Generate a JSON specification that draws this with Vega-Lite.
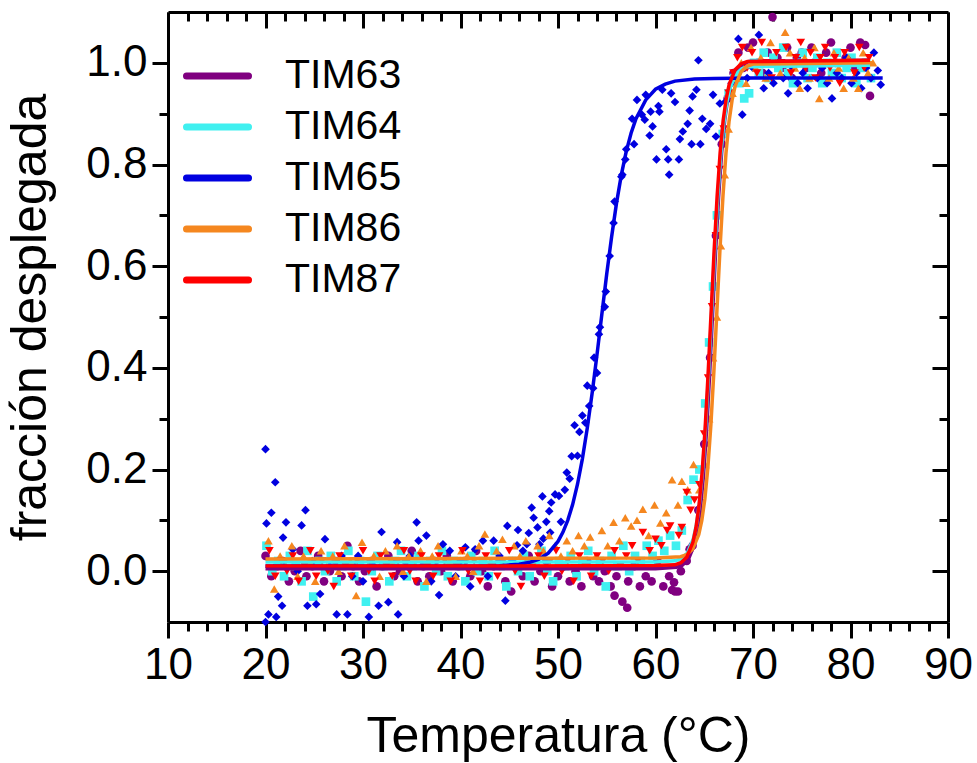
{
  "$schema": "https://vega.github.io/schema/vega-lite/v6.json",
  "width": 780,
  "height": 610,
  "autosize": "none",
  "padding": {"left": 168, "top": 12, "right": 29, "bottom": 141},
  "background": "white",
  "config": {
    "font": "Liberation Sans",
    "view": {"stroke": null},
    "axis": {"labelFont": "Liberation Sans", "titleFont": "Liberation Sans", "labelColor": "black", "titleColor": "black", "titleFontWeight": "normal", "grid": false, "domainColor": "black", "tickColor": "black", "domainWidth": 3, "tickWidth": 3, "zindex": 1},
    "legend": {"labelFont": "Liberation Sans"},
    "point": {"filled": true, "size": 75, "opacity": 1}
  },
  "datasets": {
    "puntos": [
      {"s":"TIM63","t":20,"f":0.03},{"s":"TIM63","t":20.6,"f":-0.01},{"s":"TIM63","t":21.2,"f":0.01},{"s":"TIM63","t":21.8,"f":0.02},{"s":"TIM63","t":22.4,"f":-0.02},{"s":"TIM63","t":23,"f":0},{"s":"TIM63","t":23.6,"f":0.04},{"s":"TIM63","t":24.2,"f":-0.01},{"s":"TIM63","t":24.8,"f":0.01},{"s":"TIM63","t":25.4,"f":0.03},{"s":"TIM63","t":26,"f":-0.02},{"s":"TIM63","t":26.6,"f":0},{"s":"TIM63","t":27.2,"f":0.02},{"s":"TIM63","t":27.8,"f":-0.01},{"s":"TIM63","t":28.4,"f":0.05},{"s":"TIM63","t":29,"f":0.01},{"s":"TIM63","t":29.6,"f":-0.02},{"s":"TIM63","t":30.2,"f":0},{"s":"TIM63","t":30.8,"f":0.02},{"s":"TIM63","t":31.4,"f":-0.03},{"s":"TIM63","t":32,"f":0.01},{"s":"TIM63","t":32.6,"f":0.03},{"s":"TIM63","t":33.2,"f":-0.01},{"s":"TIM63","t":33.8,"f":0},{"s":"TIM63","t":34.4,"f":0.02},{"s":"TIM63","t":35,"f":0.04},{"s":"TIM63","t":35.6,"f":-0.02},{"s":"TIM63","t":36.2,"f":0.01},{"s":"TIM63","t":36.8,"f":-0.01},{"s":"TIM63","t":37.4,"f":0.02},{"s":"TIM63","t":38,"f":0},{"s":"TIM63","t":38.6,"f":0.03},{"s":"TIM63","t":39.2,"f":-0.02},{"s":"TIM63","t":39.8,"f":0.01},{"s":"TIM63","t":40.4,"f":0.02},{"s":"TIM63","t":41,"f":-0.01},{"s":"TIM63","t":41.6,"f":0.04},{"s":"TIM63","t":42.2,"f":0},{"s":"TIM63","t":42.8,"f":-0.03},{"s":"TIM63","t":43.4,"f":0.01},{"s":"TIM63","t":44,"f":0.02},{"s":"TIM63","t":44.6,"f":-0.02},{"s":"TIM63","t":45.2,"f":-0.04},{"s":"TIM63","t":45.8,"f":0.01},{"s":"TIM63","t":46.4,"f":-0.01},{"s":"TIM63","t":47,"f":0.03},{"s":"TIM63","t":47.6,"f":-0.02},{"s":"TIM63","t":48.2,"f":0},{"s":"TIM63","t":48.8,"f":0.02},{"s":"TIM63","t":49.4,"f":-0.03},{"s":"TIM63","t":50,"f":-0.01},{"s":"TIM63","t":50.6,"f":0.01},{"s":"TIM63","t":51.2,"f":-0.02},{"s":"TIM63","t":51.8,"f":0},{"s":"TIM63","t":52.4,"f":-0.03},{"s":"TIM63","t":53,"f":0.02},{"s":"TIM63","t":53.6,"f":-0.01},{"s":"TIM63","t":54.2,"f":-0.02},{"s":"TIM63","t":54.8,"f":0},{"s":"TIM63","t":55.4,"f":-0.03},{"s":"TIM63","t":55.8,"f":-0.048},{"s":"TIM63","t":56,"f":-0.01},{"s":"TIM63","t":56.6,"f":-0.06},{"s":"TIM63","t":57.1,"f":-0.072},{"s":"TIM63","t":57.2,"f":-0.02},{"s":"TIM63","t":57.8,"f":0.01},{"s":"TIM63","t":58.4,"f":-0.03},{"s":"TIM63","t":59,"f":-0.01},{"s":"TIM63","t":59.6,"f":-0.02},{"s":"TIM63","t":60.2,"f":0.02},{"s":"TIM63","t":60.8,"f":-0.03},{"s":"TIM63","t":61.4,"f":-0.01},{"s":"TIM63","t":61.7,"f":-0.037},{"s":"TIM63","t":61.9,"f":-0.022},{"s":"TIM63","t":62,"f":-0.04},{"s":"TIM63","t":62.3,"f":-0.04},{"s":"TIM63","t":62.6,"f":0},{"s":"TIM63","t":63.2,"f":0.02},{"s":"TIM63","t":63.5,"f":0.043},{"s":"TIM63","t":63.8,"f":0.05},{"s":"TIM63","t":64.4,"f":0.12},{"s":"TIM63","t":65,"f":0.25},{"s":"TIM63","t":65.6,"f":0.42},{"s":"TIM63","t":66.2,"f":0.66},{"s":"TIM63","t":66.8,"f":0.84},{"s":"TIM63","t":67.4,"f":0.93},{"s":"TIM63","t":68,"f":0.98},
      {"s":"TIM63","t":68.5,"f":1.02},{"s":"TIM63","t":69,"f":0.99},{"s":"TIM63","t":69.5,"f":1.03},{"s":"TIM63","t":70,"f":1.04},{"s":"TIM63","t":70.5,"f":1},{"s":"TIM63","t":71,"f":0.98},{"s":"TIM63","t":71.5,"f":1.02},{"s":"TIM63","t":72,"f":1.09},{"s":"TIM63","t":72.5,"f":1.01},{"s":"TIM63","t":73,"f":0.99},{"s":"TIM63","t":73.5,"f":1.03},{"s":"TIM63","t":74,"f":0.97},{"s":"TIM63","t":74.5,"f":1.01},{"s":"TIM63","t":75,"f":1.02},{"s":"TIM63","t":75.5,"f":0.99},{"s":"TIM63","t":76,"f":1.03},{"s":"TIM63","t":76.5,"f":1},{"s":"TIM63","t":77,"f":0.98},{"s":"TIM63","t":77.5,"f":1.02},{"s":"TIM63","t":78,"f":1.04},{"s":"TIM63","t":78.5,"f":1},{"s":"TIM63","t":79,"f":0.97},{"s":"TIM63","t":79.5,"f":1.01},{"s":"TIM63","t":80,"f":1.03},{"s":"TIM63","t":80.5,"f":0.99},{"s":"TIM63","t":81,"f":1.04},{"s":"TIM63","t":81.5,"f":1.035},{"s":"TIM63","t":82,"f":0.935},

      {"s":"TIM64","t":20.1,"f":0.05},{"s":"TIM64","t":20.7,"f":0},{"s":"TIM64","t":21.3,"f":0.02},{"s":"TIM64","t":21.9,"f":-0.01},{"s":"TIM64","t":22.5,"f":0.03},{"s":"TIM64","t":23.1,"f":0.01},{"s":"TIM64","t":23.7,"f":-0.02},{"s":"TIM64","t":24.3,"f":0.04},{"s":"TIM64","t":24.9,"f":-0.05},{"s":"TIM64","t":25.5,"f":0.02},{"s":"TIM64","t":26.1,"f":0},{"s":"TIM64","t":26.7,"f":0.03},{"s":"TIM64","t":27.3,"f":-0.02},{"s":"TIM64","t":27.9,"f":0.01},{"s":"TIM64","t":28.5,"f":0.04},{"s":"TIM64","t":29.1,"f":-0.01},{"s":"TIM64","t":29.7,"f":0.02},{"s":"TIM64","t":30.3,"f":-0.06},{"s":"TIM64","t":30.9,"f":0},{"s":"TIM64","t":31.5,"f":0.03},{"s":"TIM64","t":32.1,"f":0.01},{"s":"TIM64","t":32.7,"f":-0.02},{"s":"TIM64","t":33.3,"f":0.02},{"s":"TIM64","t":33.9,"f":0.04},{"s":"TIM64","t":34.5,"f":-0.01},{"s":"TIM64","t":35.1,"f":0.01},{"s":"TIM64","t":35.7,"f":0.03},{"s":"TIM64","t":36.3,"f":-0.03},{"s":"TIM64","t":36.9,"f":0.02},{"s":"TIM64","t":37.5,"f":0},{"s":"TIM64","t":38.1,"f":0.04},{"s":"TIM64","t":38.7,"f":-0.01},{"s":"TIM64","t":39.3,"f":0.02},{"s":"TIM64","t":39.9,"f":0.01},{"s":"TIM64","t":40.5,"f":-0.02},{"s":"TIM64","t":41.1,"f":0.03},{"s":"TIM64","t":41.7,"f":0},{"s":"TIM64","t":42.3,"f":0.02},{"s":"TIM64","t":42.9,"f":-0.01},{"s":"TIM64","t":43.5,"f":0.04},{"s":"TIM64","t":44.1,"f":0.01},{"s":"TIM64","t":44.7,"f":-0.03},{"s":"TIM64","t":45.3,"f":0.02},{"s":"TIM64","t":45.9,"f":0},{"s":"TIM64","t":46.5,"f":0.03},{"s":"TIM64","t":47.1,"f":-0.01},{"s":"TIM64","t":47.7,"f":0.02},{"s":"TIM64","t":48.3,"f":0.04},{"s":"TIM64","t":48.9,"f":0},{"s":"TIM64","t":49.5,"f":-0.02},{"s":"TIM64","t":50.1,"f":0.02},{"s":"TIM64","t":50.7,"f":0.01},{"s":"TIM64","t":51.3,"f":0.03},{"s":"TIM64","t":51.9,"f":-0.01},{"s":"TIM64","t":52.5,"f":0.02},{"s":"TIM64","t":53.1,"f":0.04},{"s":"TIM64","t":53.7,"f":0},{"s":"TIM64","t":54.3,"f":0.02},{"s":"TIM64","t":54.9,"f":-0.03},{"s":"TIM64","t":55.5,"f":0.03},{"s":"TIM64","t":56.1,"f":0.01},{"s":"TIM64","t":56.7,"f":0.05},{"s":"TIM64","t":57.3,"f":0},{"s":"TIM64","t":57.9,"f":0.03},{"s":"TIM64","t":58.5,"f":0.02},{"s":"TIM64","t":59.1,"f":0.05},{"s":"TIM64","t":59.7,"f":0.03},{"s":"TIM64","t":60.3,"f":0.06},{"s":"TIM64","t":60.9,"f":0.04},{"s":"TIM64","t":61.5,"f":0.07},{"s":"TIM64","t":62.1,"f":0.05},{"s":"TIM64","t":62.7,"f":0.08},{"s":"TIM64","t":63.3,"f":0.14},{"s":"TIM64","t":63.9,"f":0.18},{"s":"TIM64","t":64.5,"f":0.2},{"s":"TIM64","t":65.1,"f":0.33},{"s":"TIM64","t":65.5,"f":0.45},{"s":"TIM64","t":65.9,"f":0.56},{"s":"TIM64","t":66.3,"f":0.7},{"s":"TIM64","t":66.9,"f":0.86},{"s":"TIM64","t":67.5,"f":0.94},{"s":"TIM64","t":68.1,"f":0.97},
      {"s":"TIM64","t":68.6,"f":0.96},{"s":"TIM64","t":69.1,"f":0.93},{"s":"TIM64","t":69.6,"f":0.94},{"s":"TIM64","t":70.1,"f":1},{"s":"TIM64","t":70.6,"f":0.98},{"s":"TIM64","t":71.1,"f":1.02},{"s":"TIM64","t":71.6,"f":0.97},{"s":"TIM64","t":72.1,"f":1.01},{"s":"TIM64","t":72.6,"f":0.99},{"s":"TIM64","t":73.1,"f":1.03},{"s":"TIM64","t":73.6,"f":0.98},{"s":"TIM64","t":74.1,"f":0.96},{"s":"TIM64","t":74.6,"f":1},{"s":"TIM64","t":75.1,"f":1.02},{"s":"TIM64","t":75.6,"f":0.97},{"s":"TIM64","t":76.1,"f":0.99},{"s":"TIM64","t":76.6,"f":1.01},{"s":"TIM64","t":77.1,"f":0.96},{"s":"TIM64","t":77.6,"f":1},{"s":"TIM64","t":78.1,"f":0.98},{"s":"TIM64","t":78.6,"f":1.02},{"s":"TIM64","t":79.1,"f":0.97},{"s":"TIM64","t":79.6,"f":0.99},{"s":"TIM64","t":80.1,"f":1.01},{"s":"TIM64","t":80.6,"f":0.96},{"s":"TIM64","t":81.1,"f":0.99},{"s":"TIM64","t":81.6,"f":1},{"s":"TIM64","t":82.1,"f":0.97},

      {"s":"TIM65","t":20,"f":0.24},{"s":"TIM65","t":20,"f":-0.1},{"s":"TIM65","t":20.1,"f":0.094},{"s":"TIM65","t":20.3,"f":-0.085},{"s":"TIM65","t":20.6,"f":0.115},{"s":"TIM65","t":21,"f":0.175},{"s":"TIM65","t":21.1,"f":-0.09},{"s":"TIM65","t":21.3,"f":-0.05},{"s":"TIM65","t":21.7,"f":-0.068},{"s":"TIM65","t":21.8,"f":0.066},{"s":"TIM65","t":22.1,"f":0.096},{"s":"TIM65","t":22.8,"f":0.043},{"s":"TIM65","t":23.3,"f":0},{"s":"TIM65","t":23.7,"f":0.09},{"s":"TIM65","t":24.1,"f":0.12},{"s":"TIM65","t":24.3,"f":-0.068},{"s":"TIM65","t":24.8,"f":0.02},{"s":"TIM65","t":25.2,"f":-0.065},{"s":"TIM65","t":25.6,"f":-0.045},{"s":"TIM65","t":26.1,"f":0.063},{"s":"TIM65","t":26.6,"f":0.01},{"s":"TIM65","t":27.3,"f":-0.085},{"s":"TIM65","t":27.8,"f":0.03},{"s":"TIM65","t":28.4,"f":-0.085},{"s":"TIM65","t":28.9,"f":-0.01},{"s":"TIM65","t":29.5,"f":0.03},{"s":"TIM65","t":30,"f":-0.02},{"s":"TIM65","t":30.6,"f":-0.09},{"s":"TIM65","t":31.1,"f":0.01},{"s":"TIM65","t":31.6,"f":-0.068},{"s":"TIM65","t":31.9,"f":0.077},{"s":"TIM65","t":32.6,"f":-0.061},{"s":"TIM65","t":33,"f":0.02},{"s":"TIM65","t":33.5,"f":0.057},{"s":"TIM65","t":33.6,"f":-0.085},{"s":"TIM65","t":34.2,"f":-0.01},{"s":"TIM65","t":34.8,"f":0.03},{"s":"TIM65","t":35.5,"f":0.096},{"s":"TIM65","t":35.7,"f":0.06},{"s":"TIM65","t":36.5,"f":0.07},{"s":"TIM65","t":37,"f":-0.02},{"s":"TIM65","t":37.8,"f":-0.047},{"s":"TIM65","t":38.2,"f":0.053},{"s":"TIM65","t":38.9,"f":0.04},{"s":"TIM65","t":39.5,"f":-0.01},{"s":"TIM65","t":40,"f":0.02},{"s":"TIM65","t":40.5,"f":0.047},{"s":"TIM65","t":41,"f":-0.03},{"s":"TIM65","t":41.5,"f":0.043},{"s":"TIM65","t":42.3,"f":0.06},{"s":"TIM65","t":42.8,"f":-0.01},{"s":"TIM65","t":43.4,"f":0.06},{"s":"TIM65","t":44,"f":0.03},{"s":"TIM65","t":44.6,"f":-0.058},{"s":"TIM65","t":44.8,"f":0.089},{"s":"TIM65","t":45.3,"f":0.02},{"s":"TIM65","t":45.8,"f":0.051},{"s":"TIM65","t":45.9,"f":0.081},{"s":"TIM65","t":46.4,"f":0.04},{"s":"TIM65","t":46.8,"f":0.053},{"s":"TIM65","t":47,"f":0.075},{"s":"TIM65","t":47.3,"f":0.125},{"s":"TIM65","t":47.5,"f":0.105},{"s":"TIM65","t":47.9,"f":0.086},{"s":"TIM65","t":48.1,"f":0.053},{"s":"TIM65","t":48.4,"f":0.147},{"s":"TIM65","t":48.5,"f":0.064},{"s":"TIM65","t":48.8,"f":0.097},{"s":"TIM65","t":49.1,"f":0.118},{"s":"TIM65","t":49.2,"f":0.076},{"s":"TIM65","t":49.3,"f":0.135},{"s":"TIM65","t":49.7,"f":0.151},{"s":"TIM65","t":50.1,"f":0.148},{"s":"TIM65","t":50.3,"f":0.097},{"s":"TIM65","t":50.7,"f":0.16},{"s":"TIM65","t":50.9,"f":0.194},{"s":"TIM65","t":51.2,"f":0.182},{"s":"TIM65","t":51.4,"f":0.226},{"s":"TIM65","t":51.7,"f":0.287},{"s":"TIM65","t":52,"f":0.227},{"s":"TIM65","t":52.2,"f":0.274},{"s":"TIM65","t":52.5,"f":0.306},{"s":"TIM65","t":52.8,"f":0.292},{"s":"TIM65","t":53,"f":0.365},{"s":"TIM65","t":53.2,"f":0.325},{"s":"TIM65","t":53.6,"f":0.36},{"s":"TIM65","t":53.7,"f":0.42},{"s":"TIM65","t":54,"f":0.39},{"s":"TIM65","t":54.2,"f":0.466},{"s":"TIM65","t":54.3,"f":0.48},{"s":"TIM65","t":54.8,"f":0.52},{"s":"TIM65","t":54.9,"f":0.55},{"s":"TIM65","t":55.3,"f":0.62},{"s":"TIM65","t":55.7,"f":0.685},{"s":"TIM65","t":55.8,"f":0.727},{"s":"TIM65","t":56.5,"f":0.776},{"s":"TIM65","t":56.6,"f":0.78},{"s":"TIM65","t":56.9,"f":0.81},{"s":"TIM65","t":57,"f":0.83},{"s":"TIM65","t":57.6,"f":0.89},{"s":"TIM65","t":57.8,"f":0.84},{"s":"TIM65","t":58.1,"f":0.927},{"s":"TIM65","t":58.6,"f":0.898},{"s":"TIM65","t":58.9,"f":0.888},{"s":"TIM65","t":59,"f":0.937},{"s":"TIM65","t":59.4,"f":0.857},{"s":"TIM65","t":59.5,"f":0.904},{"s":"TIM65","t":59.7,"f":0.875},{"s":"TIM65","t":60.1,"f":0.81},{"s":"TIM65","t":60.3,"f":0.915},{"s":"TIM65","t":60.4,"f":0.904},{"s":"TIM65","t":60.7,"f":0.947},{"s":"TIM65","t":61.1,"f":0.83},{"s":"TIM65","t":61.3,"f":0.81},{"s":"TIM65","t":61.4,"f":0.78},{"s":"TIM65","t":61.6,"f":0.94},{"s":"TIM65","t":62,"f":0.923},{"s":"TIM65","t":62.4,"f":0.81},{"s":"TIM65","t":62.5,"f":0.85},{"s":"TIM65","t":62.8,"f":0.865},{"s":"TIM65","t":63.3,"f":0.88},{"s":"TIM65","t":63.5,"f":0.906},{"s":"TIM65","t":63.7,"f":0.84},{"s":"TIM65","t":63.8,"f":0.934},{"s":"TIM65","t":64.2,"f":0.947},{"s":"TIM65","t":64.4,"f":1.005},{"s":"TIM65","t":64.6,"f":0.84},{"s":"TIM65","t":64.8,"f":0.89},{"s":"TIM65","t":65.2,"f":0.87},{"s":"TIM65","t":65.6,"f":0.88},{"s":"TIM65","t":65.9,"f":0.937},{"s":"TIM65","t":66.2,"f":0.855},{"s":"TIM65","t":66.6,"f":0.92},{"s":"TIM65","t":67.2,"f":0.924},{"s":"TIM65","t":67.8,"f":0.96},{"s":"TIM65","t":68.5,"f":1.047},{"s":"TIM65","t":68.9,"f":0.898},{"s":"TIM65","t":69.4,"f":0.97},{"s":"TIM65","t":70,"f":0.99},{"s":"TIM65","t":70.6,"f":1.055},{"s":"TIM65","t":71.1,"f":0.95},{"s":"TIM65","t":71.6,"f":0.98},{"s":"TIM65","t":72.1,"f":0.96},{"s":"TIM65","t":72.6,"f":1},{"s":"TIM65","t":73.1,"f":0.97},{"s":"TIM65","t":73.6,"f":0.94},{"s":"TIM65","t":74.1,"f":0.99},{"s":"TIM65","t":74.6,"f":0.96},{"s":"TIM65","t":75.1,"f":0.98},{"s":"TIM65","t":75.6,"f":0.95},{"s":"TIM65","t":76.1,"f":1},{"s":"TIM65","t":76.6,"f":0.97},{"s":"TIM65","t":77.1,"f":0.99},{"s":"TIM65","t":77.6,"f":0.96},{"s":"TIM65","t":78.1,"f":0.93},{"s":"TIM65","t":78.6,"f":0.98},{"s":"TIM65","t":79.1,"f":0.97},{"s":"TIM65","t":79.6,"f":1.01},{"s":"TIM65","t":80.1,"f":0.96},{"s":"TIM65","t":80.6,"f":0.98},{"s":"TIM65","t":81.1,"f":0.95},{"s":"TIM65","t":81.6,"f":0.99},{"s":"TIM65","t":82.1,"f":0.97},{"s":"TIM65","t":82.4,"f":1.02},{"s":"TIM65","t":82.8,"f":0.985},{"s":"TIM65","t":83.1,"f":0.957},

      {"s":"TIM86","t":20.3,"f":0.06},{"s":"TIM86","t":20.9,"f":-0.035},{"s":"TIM86","t":21.5,"f":0.03},{"s":"TIM86","t":22.1,"f":0.01},{"s":"TIM86","t":22.7,"f":0.05},{"s":"TIM86","t":23.3,"f":-0.01},{"s":"TIM86","t":23.9,"f":0.03},{"s":"TIM86","t":24.5,"f":0.02},{"s":"TIM86","t":25.1,"f":-0.02},{"s":"TIM86","t":25.7,"f":0.04},{"s":"TIM86","t":26.3,"f":0.01},{"s":"TIM86","t":26.9,"f":0.03},{"s":"TIM86","t":27.5,"f":0},{"s":"TIM86","t":28.1,"f":0.05},{"s":"TIM86","t":28.7,"f":0.02},{"s":"TIM86","t":29.3,"f":-0.048},{"s":"TIM86","t":29.9,"f":0.057},{"s":"TIM86","t":30.5,"f":0.01},{"s":"TIM86","t":31.1,"f":0.03},{"s":"TIM86","t":31.7,"f":-0.01},{"s":"TIM86","t":32.3,"f":0.04},{"s":"TIM86","t":32.9,"f":0.02},{"s":"TIM86","t":33.5,"f":0.05},{"s":"TIM86","t":34.1,"f":0},{"s":"TIM86","t":34.7,"f":0.03},{"s":"TIM86","t":35.3,"f":0.01},{"s":"TIM86","t":35.9,"f":0.04},{"s":"TIM86","t":36.5,"f":-0.02},{"s":"TIM86","t":37.1,"f":0.03},{"s":"TIM86","t":37.7,"f":0.05},{"s":"TIM86","t":38.3,"f":0.01},{"s":"TIM86","t":38.9,"f":0.02},{"s":"TIM86","t":39.5,"f":-0.01},{"s":"TIM86","t":40.1,"f":0.04},{"s":"TIM86","t":40.7,"f":0.03},{"s":"TIM86","t":41.3,"f":0},{"s":"TIM86","t":41.9,"f":0.05},{"s":"TIM86","t":42.5,"f":0.073},{"s":"TIM86","t":43.1,"f":0.02},{"s":"TIM86","t":43.7,"f":0.04},{"s":"TIM86","t":44.3,"f":0.063},{"s":"TIM86","t":44.9,"f":0.01},{"s":"TIM86","t":45.5,"f":0.05},{"s":"TIM86","t":46.1,"f":0.03},{"s":"TIM86","t":46.7,"f":0.06},{"s":"TIM86","t":47.3,"f":0.02},{"s":"TIM86","t":47.9,"f":0.05},{"s":"TIM86","t":48.5,"f":0.04},{"s":"TIM86","t":49.1,"f":0.07},{"s":"TIM86","t":49.7,"f":0.05},{"s":"TIM86","t":50.3,"f":0.03},{"s":"TIM86","t":50.9,"f":0.06},{"s":"TIM86","t":51.5,"f":0.04},{"s":"TIM86","t":52.1,"f":0.07},{"s":"TIM86","t":52.7,"f":0.05},{"s":"TIM86","t":53.3,"f":0.067},{"s":"TIM86","t":53.9,"f":0.03},{"s":"TIM86","t":54.5,"f":0.08},{"s":"TIM86","t":55.1,"f":0.05},{"s":"TIM86","t":55.7,"f":0.096},{"s":"TIM86","t":56.3,"f":0.06},{"s":"TIM86","t":56.9,"f":0.105},{"s":"TIM86","t":57.5,"f":0.089},{"s":"TIM86","t":58.1,"f":0.1},{"s":"TIM86","t":58.7,"f":0.122},{"s":"TIM86","t":59.3,"f":0.07},{"s":"TIM86","t":59.9,"f":0.13},{"s":"TIM86","t":60.5,"f":0.095},{"s":"TIM86","t":61.1,"f":0.115},{"s":"TIM86","t":61.7,"f":0.18},{"s":"TIM86","t":62.3,"f":0.13},{"s":"TIM86","t":62.7,"f":0.177},{"s":"TIM86","t":63.3,"f":0.16},{"s":"TIM86","t":63.9,"f":0.21},{"s":"TIM86","t":64.5,"f":0.16},{"s":"TIM86","t":65.1,"f":0.21},{"s":"TIM86","t":65.5,"f":0.3},{"s":"TIM86","t":65.9,"f":0.42},{"s":"TIM86","t":66.3,"f":0.5},{"s":"TIM86","t":66.7,"f":0.64},{"s":"TIM86","t":67.1,"f":0.78},{"s":"TIM86","t":67.5,"f":0.87},{"s":"TIM86","t":67.9,"f":0.94},{"s":"TIM86","t":68.3,"f":0.97},
      {"s":"TIM86","t":68.8,"f":1},{"s":"TIM86","t":69.3,"f":0.96},{"s":"TIM86","t":69.8,"f":1.03},{"s":"TIM86","t":70.3,"f":0.99},{"s":"TIM86","t":70.8,"f":1.01},{"s":"TIM86","t":71.3,"f":0.97},{"s":"TIM86","t":71.8,"f":1.04},{"s":"TIM86","t":72.3,"f":1},{"s":"TIM86","t":72.8,"f":0.98},{"s":"TIM86","t":73.3,"f":1.06},{"s":"TIM86","t":73.8,"f":1.02},{"s":"TIM86","t":74.3,"f":0.99},{"s":"TIM86","t":74.8,"f":0.95},{"s":"TIM86","t":75.3,"f":1.01},{"s":"TIM86","t":75.8,"f":0.97},{"s":"TIM86","t":76.3,"f":1.03},{"s":"TIM86","t":76.8,"f":0.93},{"s":"TIM86","t":77.3,"f":1},{"s":"TIM86","t":77.8,"f":0.97},{"s":"TIM86","t":78.3,"f":1.02},{"s":"TIM86","t":78.8,"f":0.99},{"s":"TIM86","t":79.3,"f":0.95},{"s":"TIM86","t":79.8,"f":1.01},{"s":"TIM86","t":80.3,"f":0.97},{"s":"TIM86","t":80.8,"f":0.95},{"s":"TIM86","t":81.3,"f":1.02},{"s":"TIM86","t":81.8,"f":0.98},{"s":"TIM86","t":82.3,"f":1},

      {"s":"TIM87","t":20.4,"f":0.04},{"s":"TIM87","t":21,"f":-0.01},{"s":"TIM87","t":21.6,"f":0.02},{"s":"TIM87","t":22.2,"f":0},{"s":"TIM87","t":22.8,"f":0.03},{"s":"TIM87","t":23.4,"f":-0.02},{"s":"TIM87","t":24,"f":0.01},{"s":"TIM87","t":24.6,"f":0.04},{"s":"TIM87","t":25.2,"f":-0.01},{"s":"TIM87","t":25.8,"f":0.02},{"s":"TIM87","t":26.4,"f":0},{"s":"TIM87","t":27,"f":-0.03},{"s":"TIM87","t":27.6,"f":0.03},{"s":"TIM87","t":28.2,"f":0.01},{"s":"TIM87","t":28.8,"f":-0.01},{"s":"TIM87","t":29.4,"f":0.02},{"s":"TIM87","t":30,"f":0.04},{"s":"TIM87","t":30.6,"f":0},{"s":"TIM87","t":31.2,"f":-0.02},{"s":"TIM87","t":31.8,"f":0.03},{"s":"TIM87","t":32.4,"f":0.01},{"s":"TIM87","t":33,"f":-0.01},{"s":"TIM87","t":33.6,"f":0.02},{"s":"TIM87","t":34.2,"f":0.04},{"s":"TIM87","t":34.8,"f":0},{"s":"TIM87","t":35.4,"f":-0.02},{"s":"TIM87","t":36,"f":0.03},{"s":"TIM87","t":36.6,"f":0.01},{"s":"TIM87","t":37.2,"f":-0.01},{"s":"TIM87","t":37.8,"f":0.03},{"s":"TIM87","t":38.4,"f":0.02},{"s":"TIM87","t":39,"f":-0.02},{"s":"TIM87","t":39.6,"f":0.01},{"s":"TIM87","t":40.2,"f":0.04},{"s":"TIM87","t":40.8,"f":0},{"s":"TIM87","t":41.4,"f":0.02},{"s":"TIM87","t":42,"f":-0.02},{"s":"TIM87","t":42.6,"f":0.03},{"s":"TIM87","t":43.2,"f":0.01},{"s":"TIM87","t":43.8,"f":-0.01},{"s":"TIM87","t":44.4,"f":0.02},{"s":"TIM87","t":45,"f":0.04},{"s":"TIM87","t":45.6,"f":0},{"s":"TIM87","t":46.2,"f":-0.03},{"s":"TIM87","t":46.8,"f":0.02},{"s":"TIM87","t":47.4,"f":0.01},{"s":"TIM87","t":48,"f":0.03},{"s":"TIM87","t":48.6,"f":-0.01},{"s":"TIM87","t":49.2,"f":0.02},{"s":"TIM87","t":49.8,"f":0.04},{"s":"TIM87","t":50.4,"f":0},{"s":"TIM87","t":51,"f":0.02},{"s":"TIM87","t":51.6,"f":-0.02},{"s":"TIM87","t":52.2,"f":0.03},{"s":"TIM87","t":52.8,"f":0.01},{"s":"TIM87","t":53.4,"f":-0.01},{"s":"TIM87","t":54,"f":0.03},{"s":"TIM87","t":54.6,"f":0.02},{"s":"TIM87","t":55.2,"f":0},{"s":"TIM87","t":55.8,"f":0.04},{"s":"TIM87","t":56.4,"f":0.01},{"s":"TIM87","t":57,"f":0.03},{"s":"TIM87","t":57.6,"f":0.05},{"s":"TIM87","t":58.2,"f":0.02},{"s":"TIM87","t":58.7,"f":0.076},{"s":"TIM87","t":59.4,"f":0.04},{"s":"TIM87","t":60,"f":0.063},{"s":"TIM87","t":60.6,"f":0.05},{"s":"TIM87","t":61.2,"f":0.08},{"s":"TIM87","t":61.5,"f":0.089},{"s":"TIM87","t":62.4,"f":0.07},{"s":"TIM87","t":62.7,"f":0.086},{"s":"TIM87","t":63.2,"f":0.155},{"s":"TIM87","t":63.6,"f":0.12},{"s":"TIM87","t":64,"f":0.14},{"s":"TIM87","t":64.5,"f":0.17},{"s":"TIM87","t":65,"f":0.27},{"s":"TIM87","t":65.4,"f":0.38},{"s":"TIM87","t":65.8,"f":0.52},{"s":"TIM87","t":66.2,"f":0.66},{"s":"TIM87","t":66.6,"f":0.79},{"s":"TIM87","t":67,"f":0.87},{"s":"TIM87","t":67.5,"f":0.94},{"s":"TIM87","t":68,"f":0.98},
      {"s":"TIM87","t":68.4,"f":1.01},{"s":"TIM87","t":68.9,"f":1.03},{"s":"TIM87","t":69.4,"f":0.99},{"s":"TIM87","t":69.9,"f":1.02},{"s":"TIM87","t":70.4,"f":0.98},{"s":"TIM87","t":70.9,"f":1.04},{"s":"TIM87","t":71.4,"f":1},{"s":"TIM87","t":71.9,"f":0.97},{"s":"TIM87","t":72.4,"f":1.02},{"s":"TIM87","t":72.9,"f":1},{"s":"TIM87","t":73.4,"f":1.03},{"s":"TIM87","t":73.9,"f":0.98},{"s":"TIM87","t":74.4,"f":1.01},{"s":"TIM87","t":74.9,"f":1.04},{"s":"TIM87","t":75.4,"f":0.99},{"s":"TIM87","t":75.9,"f":1.02},{"s":"TIM87","t":76.4,"f":0.97},{"s":"TIM87","t":76.9,"f":1.01},{"s":"TIM87","t":77.4,"f":1.03},{"s":"TIM87","t":77.9,"f":0.99},{"s":"TIM87","t":78.4,"f":1.01},{"s":"TIM87","t":78.9,"f":0.96},{"s":"TIM87","t":79.4,"f":1.02},{"s":"TIM87","t":79.9,"f":1},{"s":"TIM87","t":80.4,"f":0.98},{"s":"TIM87","t":80.9,"f":1.03},{"s":"TIM87","t":81.4,"f":0.99},{"s":"TIM87","t":81.9,"f":1.01}
    ],
    "ajuste": [
      {"s":"TIM63","t":20,"f":0.005},{"s":"TIM63","t":40,"f":0.005},{"s":"TIM63","t":60,"f":0.005},{"s":"TIM63","t":62.13,"f":0.0075},{"s":"TIM63","t":62.75,"f":0.0117},{"s":"TIM63","t":63.37,"f":0.023},{"s":"TIM63","t":63.99,"f":0.0524},{"s":"TIM63","t":64.3,"f":0.0809},{"s":"TIM63","t":64.61,"f":0.1242},{"s":"TIM63","t":64.92,"f":0.1874},{"s":"TIM63","t":65.23,"f":0.2739},{"s":"TIM63","t":65.54,"f":0.3825},{"s":"TIM63","t":65.85,"f":0.505},{"s":"TIM63","t":66.16,"f":0.6275},{"s":"TIM63","t":66.47,"f":0.736},{"s":"TIM63","t":66.78,"f":0.8226},{"s":"TIM63","t":67.09,"f":0.886},{"s":"TIM63","t":67.4,"f":0.929},{"s":"TIM63","t":67.71,"f":0.9576},{"s":"TIM63","t":68.33,"f":0.987},{"s":"TIM63","t":68.95,"f":0.9983},{"s":"TIM63","t":69.57,"f":1.0025},{"s":"TIM63","t":82,"f":1.005},
      {"s":"TIM64","t":20,"f":0.018},{"s":"TIM64","t":40,"f":0.018},{"s":"TIM64","t":60,"f":0.018},{"s":"TIM64","t":62.03,"f":0.0204},{"s":"TIM64","t":62.65,"f":0.0245},{"s":"TIM64","t":63.27,"f":0.0356},{"s":"TIM64","t":63.89,"f":0.0643},{"s":"TIM64","t":64.2,"f":0.0922},{"s":"TIM64","t":64.51,"f":0.1345},{"s":"TIM64","t":64.82,"f":0.1962},{"s":"TIM64","t":65.13,"f":0.2807},{"s":"TIM64","t":65.44,"f":0.3868},{"s":"TIM64","t":65.75,"f":0.5065},{"s":"TIM64","t":66.06,"f":0.6262},{"s":"TIM64","t":66.37,"f":0.7322},{"s":"TIM64","t":66.68,"f":0.8168},{"s":"TIM64","t":66.99,"f":0.8787},{"s":"TIM64","t":67.3,"f":0.9207},{"s":"TIM64","t":67.61,"f":0.9487},{"s":"TIM64","t":68.23,"f":0.9774},{"s":"TIM64","t":68.85,"f":0.9884},{"s":"TIM64","t":69.47,"f":0.9925},{"s":"TIM64","t":82,"f":0.995},
      {"s":"TIM65","t":20,"f":0.01},{"s":"TIM65","t":40,"f":0.0101},{"s":"TIM65","t":44,"f":0.0109},{"s":"TIM65","t":46,"f":0.0135},{"s":"TIM65","t":47,"f":0.0169},{"s":"TIM65","t":48,"f":0.0233},{"s":"TIM65","t":49,"f":0.0355},{"s":"TIM65","t":50,"f":0.0585},{"s":"TIM65","t":50.5,"f":0.0764},{"s":"TIM65","t":51,"f":0.1},{"s":"TIM65","t":51.5,"f":0.131},{"s":"TIM65","t":52,"f":0.171},{"s":"TIM65","t":52.5,"f":0.221},{"s":"TIM65","t":53,"f":0.281},{"s":"TIM65","t":53.5,"f":0.35},{"s":"TIM65","t":54,"f":0.426},{"s":"TIM65","t":54.5,"f":0.506},{"s":"TIM65","t":55,"f":0.585},{"s":"TIM65","t":55.5,"f":0.658},{"s":"TIM65","t":56,"f":0.724},{"s":"TIM65","t":56.5,"f":0.78},{"s":"TIM65","t":57,"f":0.826},{"s":"TIM65","t":57.5,"f":0.862},{"s":"TIM65","t":58,"f":0.89},{"s":"TIM65","t":59,"f":0.927},{"s":"TIM65","t":60,"f":0.948},{"s":"TIM65","t":61,"f":0.958},{"s":"TIM65","t":62,"f":0.964},{"s":"TIM65","t":64,"f":0.968},{"s":"TIM65","t":66,"f":0.969},{"s":"TIM65","t":70,"f":0.97},{"s":"TIM65","t":83.3,"f":0.97},
      {"s":"TIM86","t":20,"f":0.024},{"s":"TIM86","t":40,"f":0.025},{"s":"TIM86","t":60,"f":0.026},{"s":"TIM86","t":62.58,"f":0.0284},{"s":"TIM86","t":63.2,"f":0.0325},{"s":"TIM86","t":63.82,"f":0.0435},{"s":"TIM86","t":64.44,"f":0.0722},{"s":"TIM86","t":64.75,"f":0.0999},{"s":"TIM86","t":65.06,"f":0.1421},{"s":"TIM86","t":65.37,"f":0.2037},{"s":"TIM86","t":65.68,"f":0.2879},{"s":"TIM86","t":65.99,"f":0.3937},{"s":"TIM86","t":66.3,"f":0.513},{"s":"TIM86","t":66.61,"f":0.6323},{"s":"TIM86","t":66.92,"f":0.738},{"s":"TIM86","t":67.23,"f":0.8223},{"s":"TIM86","t":67.54,"f":0.8841},{"s":"TIM86","t":67.85,"f":0.926},{"s":"TIM86","t":68.16,"f":0.9538},{"s":"TIM86","t":68.78,"f":0.9825},{"s":"TIM86","t":69.4,"f":0.9935},{"s":"TIM86","t":70.02,"f":0.9975},{"s":"TIM86","t":82.3,"f":1},
      {"s":"TIM87","t":20,"f":0.01},{"s":"TIM87","t":40,"f":0.01},{"s":"TIM87","t":60,"f":0.011},{"s":"TIM87","t":61.98,"f":0.0125},{"s":"TIM87","t":62.6,"f":0.0167},{"s":"TIM87","t":63.22,"f":0.0279},{"s":"TIM87","t":63.84,"f":0.0572},{"s":"TIM87","t":64.15,"f":0.0855},{"s":"TIM87","t":64.46,"f":0.1286},{"s":"TIM87","t":64.77,"f":0.1915},{"s":"TIM87","t":65.08,"f":0.2776},{"s":"TIM87","t":65.39,"f":0.3856},{"s":"TIM87","t":65.7,"f":0.5075},{"s":"TIM87","t":66.01,"f":0.6294},{"s":"TIM87","t":66.32,"f":0.7373},{"s":"TIM87","t":66.63,"f":0.8235},{"s":"TIM87","t":66.94,"f":0.8866},{"s":"TIM87","t":67.25,"f":0.9294},{"s":"TIM87","t":67.56,"f":0.9578},{"s":"TIM87","t":68.18,"f":0.9871},{"s":"TIM87","t":68.8,"f":0.9983},{"s":"TIM87","t":69.42,"f":1.0025},{"s":"TIM87","t":82,"f":1.005}
    ]
  },
  "encoding": {
    "x": {"field": "t", "type": "quantitative", "scale": {"domain": [10, 90], "nice": false, "zero": false}, "axis": null},
    "y": {"field": "f", "type": "quantitative", "scale": {"domain": [-0.1, 1.1], "nice": false, "zero": false}, "axis": null},
    "color": {"field": "s", "type": "nominal", "scale": {"domain": ["TIM63","TIM64","TIM65","TIM86","TIM87"], "range": ["#800080","#40F0F0","#0000E0","#F5871F","#FF0000"]}}
  },
  "layer": [
    {
      "mark": {"type": "rule", "strokeDash": [2.5, 4.2], "strokeWidth": 2.5, "color": "black"},
      "encoding": {"x": null, "color": null, "y": {"datum": 0, "type": "quantitative", "axis": null}}
    },
    {
      "data": {"name": "puntos"},
      "transform": [{"filter": "datum.s === 'TIM63'"}],
      "mark": {"type": "point", "shape": "circle"},
      "encoding": {
        "x": {"field": "t", "type": "quantitative",
          "axis": {"orient": "bottom", "values": [10,12,14,16,18,20,22,24,26,28,30,32,34,36,38,40,42,44,46,48,50,52,54,56,58,60,62,64,66,68,70,72,74,76,78,80,82,84,86,88,90],
            "format": "d", "labelExpr": "datum.value % 10 === 0 ? datum.label : ''", "labelFontSize": 44, "labelPadding": 5, "labelFlush": false, "labelOverlap": false, "labelBound": false,
            "tickSize": {"condition": {"test": "datum.value % 10 === 0", "value": 16}, "value": 9},
            "title": "Temperatura (°C)", "titleFontSize": 50, "titlePadding": 24}},
        "y": {"field": "f", "type": "quantitative",
          "axis": {"orient": "left", "values": [0,0.1,0.2,0.3,0.4,0.5,0.6,0.7,0.8,0.9,1],
            "labelExpr": "round(datum.value*10) % 2 === 0 ? format(datum.value, '.1f') : ''", "labelFontSize": 44, "labelPadding": 5, "labelOverlap": false, "labelBound": false,
            "tickSize": {"condition": {"test": "round(datum.value*10) % 2 === 0", "value": 16}, "value": 9},
            "title": "fracción desplegada", "titleFontSize": 50, "titlePadding": 30}}
      }
    },
    {
      "data": {"name": "puntos"},
      "transform": [{"filter": "datum.s === 'TIM64'"}],
      "mark": {"type": "point", "shape": "square"}
    },
    {
      "data": {"name": "puntos"},
      "transform": [{"filter": "datum.s === 'TIM65'"}],
      "mark": {"type": "point", "shape": "diamond"}
    },
    {
      "data": {"name": "puntos"},
      "transform": [{"filter": "datum.s === 'TIM86'"}],
      "mark": {"type": "point", "shape": "triangle-up"}
    },
    {
      "data": {"name": "puntos"},
      "transform": [{"filter": "datum.s === 'TIM87'"}],
      "mark": {"type": "point", "shape": "triangle-down"}
    },
    {
      "data": {"name": "ajuste"},
      "mark": {"type": "line", "strokeWidth": 3.5},
      "encoding": {
        "x": {"field": "t", "type": "quantitative",
          "axis": {"orient": "top", "values": [10,12,14,16,18,20,22,24,26,28,30,32,34,36,38,40,42,44,46,48,50,52,54,56,58,60,62,64,66,68,70,72,74,76,78,80,82,84,86,88,90],
            "labels": false, "title": null,
            "tickSize": {"condition": {"test": "datum.value % 10 === 0", "value": -16}, "value": -9}}},
        "y": {"field": "f", "type": "quantitative",
          "axis": {"orient": "right", "values": [0,0.1,0.2,0.3,0.4,0.5,0.6,0.7,0.8,0.9,1],
            "labels": false, "title": null,
            "tickSize": {"condition": {"test": "round(datum.value*10) % 2 === 0", "value": -16}, "value": -9}}},
        "color": {"field": "s", "type": "nominal",
          "legend": {"orient": "none", "legendX": 15, "legendY": 40, "title": null, "symbolType": "stroke", "symbolSize": 3844, "symbolStrokeWidth": 7, "labelFontSize": 41, "labelColor": "black", "labelOffset": 33, "rowPadding": 7, "padding": 0,
            "encode": {"symbols": {"update": {"strokeCap": {"value": "round"}, "y": {"value": 24}}}, "labels": {"update": {"y": {"value": 24}}}}}}
      }
    }
  ]
}
